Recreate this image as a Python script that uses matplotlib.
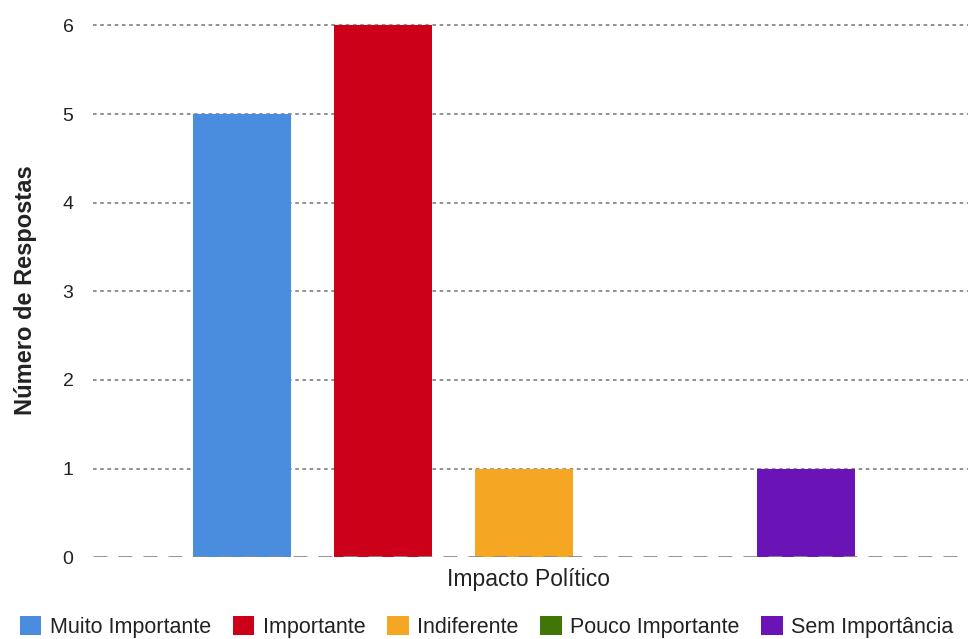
import matplotlib.pyplot as plt
import numpy as np

plt.rcParams['font.family'] = ['Liberation Sans', 'DejaVu Sans']

# dados
categorias = ['Muito Importante', 'Importante', 'Indiferente', 'Pouco Importante', 'Sem Importância']
respostas = [5, 6, 1, 0, 1]
cores = ['#4a8ddf', '#cc0019', '#f5a623', '#417505', '#6a14b8']
grupo = 'Impacto Político'
yticks = [0, 1, 2, 3, 4, 5, 6]

fig = plt.figure(figsize=(9.68, 6.39), dpi=100)
ax = fig.add_axes([0.096, 0.128, 0.904, 0.835])

x = np.arange(len(categorias))
for i in range(len(categorias)):
    ax.bar(x[i], respostas[i], width=0.695, color=cores[i], label=categorias[i], zorder=3)

ax.set_xlim(-1.057, 5.149)
ax.set_ylim(0, 6.02)
ax.set_yticks(yticks)
ax.set_xticks([])

# linhas de grade
for v in yticks[1:]:
    ax.axhline(v, color='#888888', linestyle=(0, (2, 2)), linewidth=1.3, zorder=1)
ax.axhline(0, color='#8a8a8a', linestyle=(0, (5, 4)), linewidth=2.0, zorder=4)

for s in ax.spines.values():
    s.set_visible(False)
ax.tick_params(axis='y', length=0, pad=14, labelsize=14, labelcolor='#222222')

ax.text(2.03, -0.25, grupo, ha='center', va='center', fontsize=16.5, color='#222222')
ax.set_ylabel('Número de Respostas', fontsize=17, fontweight='bold', color='#222222', labelpad=18)

ax.legend(loc='center', bbox_to_anchor=(0.45, -0.131), ncol=5, frameon=False,
          fontsize=15.5, handlelength=1.0, handleheight=1.0, handletextpad=0.4, columnspacing=1.0,
          labelcolor='#222222')

fig.savefig('out.png', dpi=100)
